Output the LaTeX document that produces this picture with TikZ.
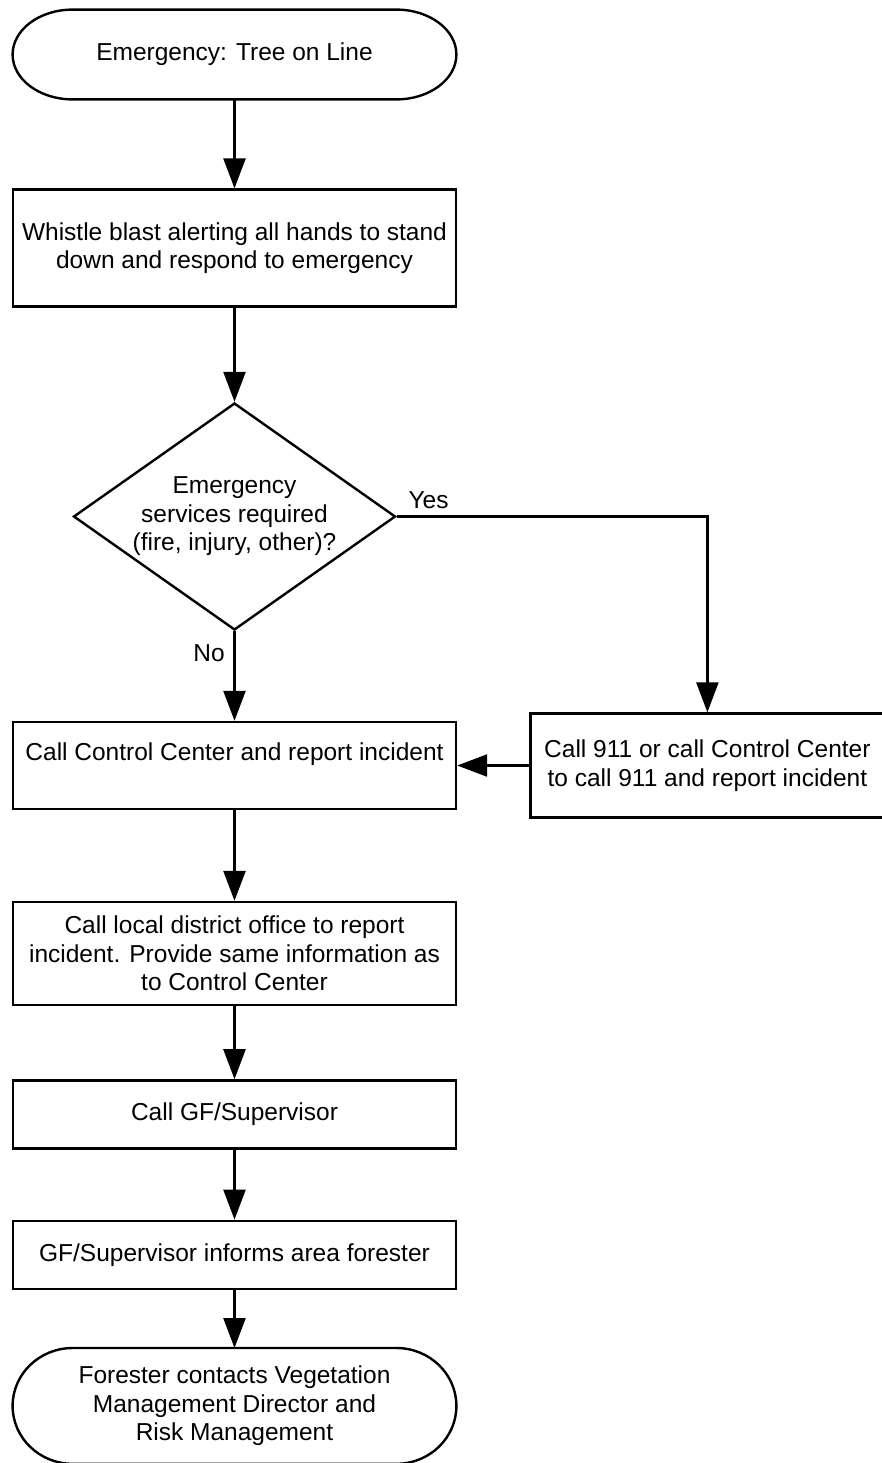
\documentclass[tikz,border=0pt]{standalone}
\usepackage{fontspec}
\setmainfont{Liberation Sans}
\usetikzlibrary{shapes.geometric,arrows.meta,positioning,calc}
\tikzstyle{block} = [draw, rectangle, line width=1.2pt,
    minimum width=221.5pt, inner sep=2pt, align=center]
\tikzstyle{decision} = [draw, diamond, line width=1.2pt, aspect=1.42,
    minimum width=161pt, minimum height=113.5pt, inner sep=0pt, align=center]
\tikzstyle{terminal} = [rectangle, minimum width=221.5pt, align=center]
\tikzstyle{connector} = [->, line width=1.2pt]
% outline of a terminal node: flat top and bottom, half ellipses at the ends
\newcommand{\termoutline}[2]{%
  \draw [line width=1.2pt] let \p1=(#1.north west), \p2=(#1.south east), \n1={0.5*(\y1-\y2)} in
    (\x1+#2,\y1) -- (\x2-#2,\y1) arc [start angle=90, end angle=-90, x radius=#2, y radius=\n1]
    -- (\x1+#2,\y2) arc [start angle=270, end angle=90, x radius=#2, y radius=\n1] -- cycle;
}

\begin{document}
\begin{tikzpicture}[auto, >={Triangle[length=15pt,width=11pt]}, font=\fontsize{12.25}{14.2}\selectfont]
    \useasboundingbox (0,0) rectangle (441pt,-731.5pt);
    \node (start) [terminal, minimum height=44.5pt] at (117.25pt,-27.25pt) {Emergency: Tree on Line};
    \node (whistle) [block, below=44.5pt of start, minimum height=58.5pt] {Whistle blast alerting all hands to stand\\down and respond to emergency};
    \node (check) [decision, below=47pt of whistle] {Emergency\\services required\\(fire, injury, other)?};
    \node (callcc) [block, below=44.8pt of check, minimum height=43.5pt, text height=9pt, text depth=14pt] {Call Control Center and report incident};
    \node (call911) [block, right=36pt of callcc, minimum width=177pt, minimum height=52pt] {Call 911 or call Control Center\\to call 911 and report incident};
    \node (district) [block, below=45.3pt of callcc, minimum height=51.5pt] {Call local district office to report\\incident. Provide same information as\\to Control Center};
    \node (gf) [block, below=36.5pt of district, minimum height=34pt] {Call GF/Supervisor};
    \node (informs) [block, below=35pt of gf, minimum height=34pt] {GF/Supervisor informs area forester};
    \node (finish) [terminal, below=29pt of informs, minimum height=57.5pt] {Forester contacts Vegetation\\Management Director and\\Risk Management};
    \termoutline{start}{30pt}
    \termoutline{finish}{30pt}

    \draw [connector] (start) -- (whistle);
    \draw [connector] (whistle) -- (check);
    \draw [connector] (check) -- node [pos=0.24, left, xshift=-1pt] {No} (callcc);
    \draw [connector] (check.east) -| node [pos=0, anchor=south west, xshift=2pt] {Yes} (call911);
    \draw [connector] (call911) -- (callcc);
    \draw [connector] (callcc) -- (district);
    \draw [connector] (district) -- (gf);
    \draw [connector] (gf) -- (informs);
    \draw [connector] (informs) -- (finish);
\end{tikzpicture}
\end{document}
